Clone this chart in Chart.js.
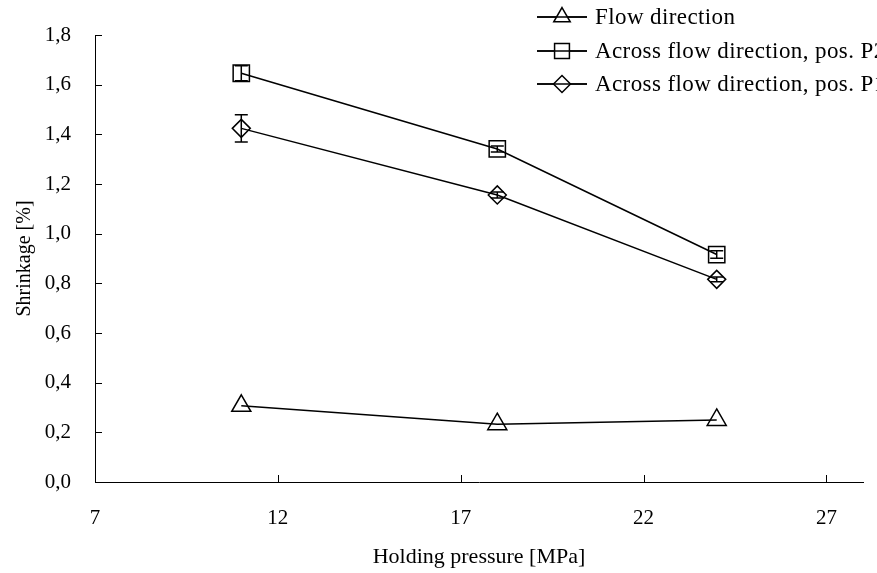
<!DOCTYPE html>
<html>
<head>
<meta charset="utf-8">
<script src="https://cdn.jsdelivr.net/npm/chart.js@4.4.1/dist/chart.umd.min.js"></script>
<style>
html,body{margin:0;padding:0;background:#fff;overflow:hidden;}
#wrap{width:877px;height:573px;}
</style>
</head>
<body>
<div id="wrap"><canvas id="c" width="877" height="573"></canvas></div>
<script>
const pressures = [11, 18, 24];
const flowDirection = [0.307, 0.233, 0.25];
const acrossP2 = [1.646, 1.341, 0.916];
const acrossP1 = [1.424, 1.156, 0.816];
const errFlow = [0, 0, 0];
const errP2 = [0.03, 0.012, 0.015];
const errP1 = [0.055, 0.012, 0.01];
const seriesLabels = ['Flow direction', 'Across flow direction, pos. P2', 'Across flow direction, pos. P1'];
const xTicks = [7, 12, 17, 22, 27];

const FONT = 'Liberation Serif, Times New Roman, serif';

function pts(vals){ return pressures.map((x,i)=>({x:x, y:vals[i]})); }

const styles = [
  {pointStyle:'triangle', radius:11, lr:9.5},
  {pointStyle:'rect', radius:11.5, lr:10.5},
  {pointStyle:'rectRot', radius:9, lr:8.5}
];
const allVals = [flowDirection, acrossP2, acrossP1];
const allErr = [errFlow, errP2, errP1];

const datasets = allVals.map((v,i)=>({
  label: seriesLabels[i],
  data: pts(v),
  errors: allErr[i],
  borderColor:'#000',
  borderWidth:1.5,
  pointStyle: styles[i].pointStyle,
  pointRadius: styles[i].radius,
  pointHoverRadius: styles[i].radius,
  pointBorderColor:'#000',
  pointBackgroundColor:'rgba(0,0,0,0)',
  pointBorderWidth:1.5,
  fill:false,
  tension:0
}));

const errorBars = {
  id:'errorBars',
  afterDatasetsDraw(chart){
    const ctx = chart.ctx, xs = chart.scales.x, ys = chart.scales.y;
    ctx.save();
    ctx.strokeStyle = '#000'; ctx.lineWidth = 1.5;
    chart.data.datasets.forEach(ds=>{
      ds.data.forEach((p,i)=>{
        const e = ds.errors[i]; if(!e) return;
        const px = xs.getPixelForValue(p.x);
        const y1 = ys.getPixelForValue(p.y + e), y2 = ys.getPixelForValue(p.y - e);
        ctx.beginPath();
        ctx.moveTo(px, y1); ctx.lineTo(px, y2);
        ctx.moveTo(px-6.5, y1); ctx.lineTo(px+6.5, y1);
        ctx.moveTo(px-6.5, y2); ctx.lineTo(px+6.5, y2);
        ctx.stroke();
      });
    });
    ctx.restore();
  }
};

const innerTicks = {
  id:'innerTicks',
  afterDraw(chart){
    const ctx = chart.ctx, xs = chart.scales.x, ys = chart.scales.y;
    ctx.save();
    ctx.strokeStyle = '#000'; ctx.lineWidth = 1;
    ys.ticks.forEach((t,i)=>{
      const py = Math.round(ys.getPixelForTick(i)) + 0.5;
      ctx.beginPath(); ctx.moveTo(xs.left, py); ctx.lineTo(xs.left + 7, py); ctx.stroke();
    });
    xs.ticks.forEach((t,i)=>{
      const px = Math.round(xs.getPixelForTick(i)) + 0.5;
      ctx.beginPath(); ctx.moveTo(px, ys.bottom); ctx.lineTo(px, ys.bottom - 7); ctx.stroke();
    });
    ctx.restore();
  }
};

const customLegend = {
  id:'customLegend',
  afterDraw(chart){
    const ctx = chart.ctx;
    ctx.save();
    const rows = [17, 51, 84];
    chart.data.datasets.forEach((ds,i)=>{
      const y = rows[i];
      ctx.strokeStyle='#000'; ctx.lineWidth=1.5;
      ctx.beginPath(); ctx.moveTo(537, y); ctx.lineTo(587, y); ctx.stroke();
      ctx.fillStyle='#fff';
      Chart.helpers.drawPoint(ctx, {pointStyle: styles[i].pointStyle, radius: styles[i].lr, borderWidth:1.5, rotation:0}, 562, y);
      ctx.strokeStyle='#000'; ctx.lineWidth=1.5;
      ctx.beginPath(); ctx.moveTo(537, y); ctx.lineTo(587, y); ctx.stroke();
      ctx.fillStyle='#000';
      ctx.font = '23px ' + FONT;
      if ('letterSpacing' in ctx) ctx.letterSpacing = '0.4px';
      ctx.textBaseline='middle'; ctx.textAlign='left';
      ctx.fillText(ds.label, 595, y+1);
      if ('letterSpacing' in ctx) ctx.letterSpacing = '0px';
    });
    ctx.restore();
  }
};

new Chart(document.getElementById('c'), {
  type:'line',
  data:{datasets},
  options:{
    responsive:false,
    animation:false,
    events:[],
    layout:{padding:{top:35, right:14, left:0, bottom:0}},
    plugins:{legend:{display:false}, tooltip:{enabled:false}},
    scales:{
      x:{
        type:'linear', min:7, max:28,
        afterBuildTicks(s){ s.ticks = xTicks.map(v=>({value:v})); },
        afterFit(s){ s.height = 91; },
        grid:{display:false},
        border:{display:true, color:'#000', width:1},
        ticks:{color:'#000', font:{family:FONT, size:21}, padding:16, maxRotation:0, callback:v=>String(v)},
        title:{display:true, text:'Holding pressure [MPa]', color:'#000', font:{family:FONT, size:22}, padding:{top:0,bottom:3}}
      },
      y:{
        type:'linear', min:0, max:1.8,
        ticks:{stepSize:0.2, color:'#000', font:{family:FONT, size:21}, padding:16,
          callback:v=>v.toFixed(1).replace('.', ',')},
        afterFit(s){ s.width = 95; },
        grid:{display:false},
        border:{display:true, color:'#000', width:1},
        title:{display:true, text:'Shrinkage [%]', color:'#000', font:{family:FONT, size:20}, padding:{top:13,bottom:0}}
      }
    }
  },
  plugins:[errorBars, innerTicks, customLegend]
});
</script>
</body>
</html>
